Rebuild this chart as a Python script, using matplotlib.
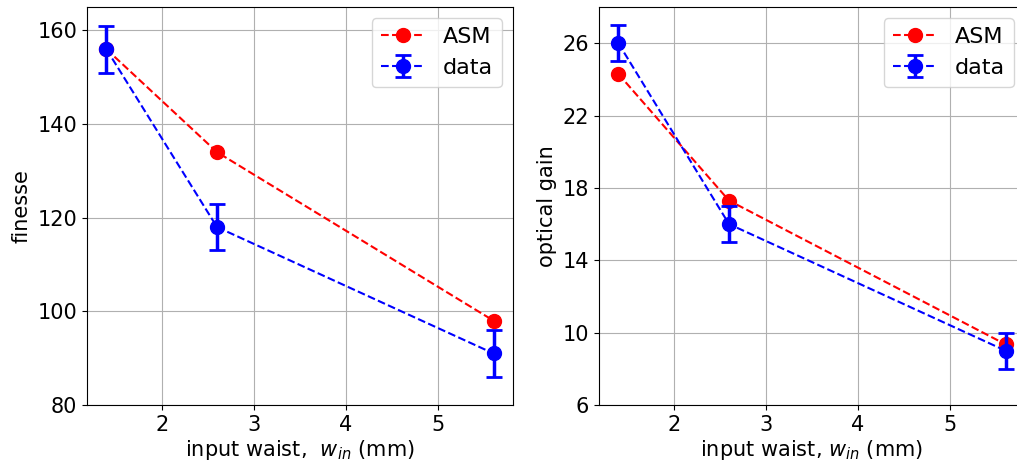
import matplotlib
matplotlib.use("Agg")
import matplotlib.pyplot as plt

waist = [1.4, 2.6, 5.6]
finesse_asm = [156, 134, 98]
finesse_data = [156, 118, 91]
finesse_err = [5, 5, 5]
gain_asm = [24.3, 17.3, 9.35]
gain_data = [26, 16, 9]
gain_err = [1, 1, 1]

plt.rcParams['font.size'] = 15
W, H = 1017, 463
fig = plt.figure(figsize=(W / 100, H / 100), dpi=100)
ax1 = fig.add_axes([87 / W, 58 / H, 426 / W, 398 / H])
ax2 = fig.add_axes([599 / W, 58 / H, 426 / W, 398 / H])

for ax, asm, dat, err, ylab, xlab in [
    (ax1, finesse_asm, finesse_data, finesse_err, 'finesse', 'input waist,  $w_{in}$ (mm)'),
    (ax2, gain_asm, gain_data, gain_err, 'optical gain', 'input waist, $w_{in}$ (mm)'),
]:
    ax.plot(waist, asm, 'r--o', markersize=10, label='ASM')
    ax.errorbar(waist, dat, yerr=err, fmt='b--o', markersize=10,
                elinewidth=2.5, capsize=6, capthick=2, label='data')
    ax.grid(True, color='#b0b0b0', linewidth=0.8)
    ax.set_ylabel(ylab)
    ax.set_xlabel(xlab, labelpad=2)
    ax.legend(loc='upper right', fontsize=16)

ax1.set_ylim(80, 165)
ax1.set_yticks([80, 100, 120, 140, 160])
ax2.set_ylim(6, 28)
ax2.set_yticks([6, 10, 14, 18, 22, 26])
for ax in (ax1, ax2):
    ax.set_xticks([2, 3, 4, 5])

fig.savefig('out.png', dpi=100)
